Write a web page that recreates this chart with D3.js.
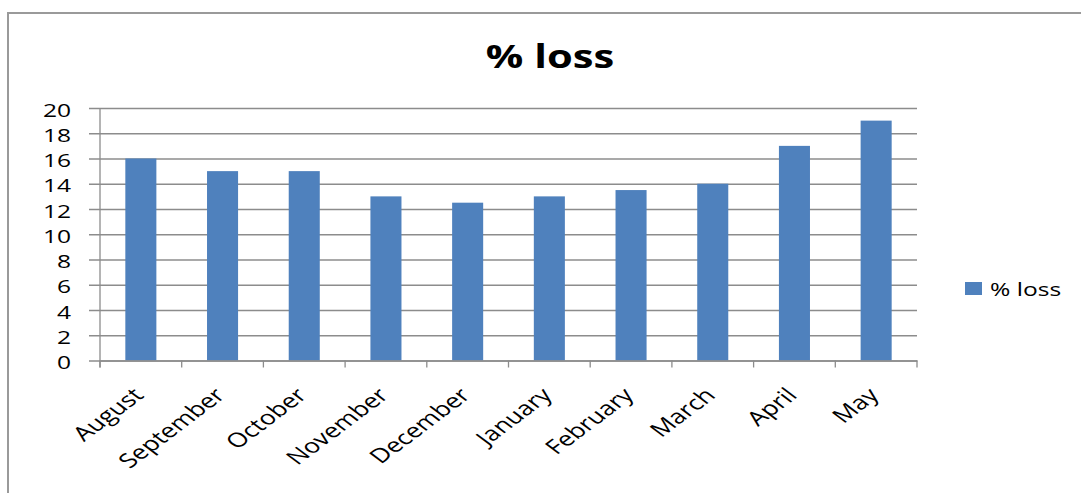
<!DOCTYPE html>
<html>
<head>
<meta charset="utf-8">
<script src="https://cdn.jsdelivr.net/npm/d3@7"></script>
<style>
  html, body { margin: 0; padding: 0; background: #fff; }
  svg { display: block; }
  text { font-family: "Open Sans", sans-serif; fill: #000; }
</style>
</head>
<body>
<svg id="chart" width="1081" height="493"></svg>
<script>
// Monthly % loss
const months = ["August", "September", "October", "November", "December",
                "January", "February", "March", "April", "May"];
const lossValues = [16, 15, 15, 13, 12.5, 13, 13.5, 14, 17, 19];
const yTicks = [0, 2, 4, 6, 8, 10, 12, 14, 16, 18, 20];
const seriesName = "% loss";
const chartTitle = "% loss";

const W = 1081, H = 493;
const SX = 1.33;              // horizontal text stretch
const plot = { left: 100, right: 917, top: 108, bottom: 360.5 };
const barColor = "#4F81BD";
const gridColor = "#8C8C8C";

const svg = d3.select("#chart");

// outer frame
svg.append("rect")
  .attr("x", 8).attr("y", 13)
  .attr("width", W + 20).attr("height", H + 20)
  .attr("fill", "none").attr("stroke", "#9a9a9a").attr("stroke-width", 2);

const x = d3.scaleBand()
  .domain(months)
  .range([plot.left, plot.right])
  .paddingInner(0.62)
  .paddingOuter(0.31);

const y = d3.scaleLinear()
  .domain([0, 20])
  .range([plot.bottom, plot.top]);

// horizontal gridlines with left tick labels
const yAxis = d3.axisLeft(y)
  .tickValues(yTicks)
  .tickSize(-(plot.right - plot.left) - 11)
  .tickPadding(0)
  .tickFormat(d3.format("d"));

const gy = svg.append("g")
  .attr("transform", `translate(${plot.right},0)`)
  .call(yAxis);
gy.select(".domain").remove();
gy.selectAll(".tick line")
  .attr("x1", 0)
  .attr("x2", -(plot.right - plot.left) - 11)
  .attr("stroke", gridColor).attr("stroke-width", 1.3);
gy.selectAll(".tick text")
  .attr("x", null).attr("dy", null)
  .attr("text-anchor", "end")
  .attr("dominant-baseline", "central")
  .attr("font-size", 18.5)
  .attr("transform", `translate(${71 - plot.right},1) scale(${SX},1)`)
  .attr("fill", "#000");
gy.attr("font-family", null);

// bars
svg.append("g")
  .selectAll("rect")
  .data(months.map((m, i) => ({ m, v: lossValues[i] })))
  .join("rect")
  .attr("x", d => x(d.m))
  .attr("y", d => y(d.v))
  .attr("width", x.bandwidth())
  .attr("height", d => y(0) - y(d.v))
  .attr("fill", barColor);

// vertical axis line
svg.append("line")
  .attr("x1", plot.left).attr("x2", plot.left)
  .attr("y1", plot.top).attr("y2", plot.bottom + 7)
  .attr("stroke", gridColor).attr("stroke-width", 1.3);

// category axis with boundary ticks
const xAxis = d3.axisBottom(x).tickSize(0).tickFormat("");
const gx = svg.append("g")
  .attr("transform", `translate(0,${plot.bottom})`)
  .call(xAxis);
gx.select(".domain").attr("stroke", gridColor).attr("stroke-width", 1.3);
gx.selectAll(".tick").remove();

const step = x.step();
const bounds = d3.range(months.length + 1).map(i => plot.left + i * step);
gx.selectAll("line.bound")
  .data(bounds)
  .join("line")
  .attr("class", "bound")
  .attr("x1", d => d).attr("x2", d => d)
  .attr("y1", 0).attr("y2", 7)
  .attr("stroke", gridColor).attr("stroke-width", 1.3);

// rotated month labels
svg.append("g")
  .selectAll("text")
  .data(months)
  .join("text")
  .attr("text-anchor", "end")
  .attr("font-size", 20)
  .attr("transform", d => `translate(${x(d) + x.bandwidth() / 2 + 4},${plot.bottom + 36}) scale(${SX},1) rotate(-45)`)
  .text(d => d);

// title
svg.append("text")
  .attr("text-anchor", "middle")
  .attr("font-size", 32)
  .attr("font-weight", 700)
  .attr("transform", `translate(550,68) scale(${SX * 0.98},1)`)
  .text(chartTitle);

// legend
const lg = svg.append("g").attr("transform", "translate(965,282)");
lg.append("rect")
  .attr("width", 17).attr("height", 13)
  .attr("fill", barColor);
lg.append("text")
  .attr("font-size", 18.5)
  .attr("dominant-baseline", "central")
  .attr("transform", `translate(25,7) scale(${SX},1)`)
  .text(seriesName);
</script>
</body>
</html>
